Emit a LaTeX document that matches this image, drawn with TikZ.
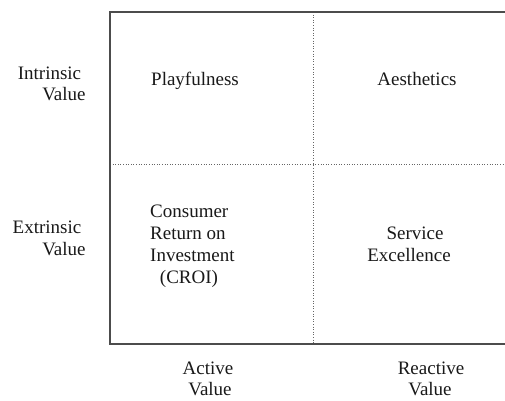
\documentclass[tikz,border=0pt]{standalone}
\usepackage{fontspec}
\setmainfont{Liberation Serif}
\begin{document}
\begin{tikzpicture}[x=1pt,y=-1pt,
  lbl/.style={anchor=base,inner sep=0pt,font=\fontsize{19}{22}\selectfont,text=black!90},
  frame/.style={draw=black!70,line width=1.2pt},
  divider/.style={draw=black!60,line width=0.6pt,dotted}]
\useasboundingbox[fill=white] (0,0) rectangle (505,400);
% frame
\coordinate (tl) at (110,12);
\coordinate (tr) at (505,12);
\coordinate (bl) at (110,344);
\coordinate (br) at (505,344);
\coordinate (vt) at (313,12);
\coordinate (vb) at (313,344);
\coordinate (hl) at (110,164);
\coordinate (hr) at (505,164);
\draw[divider] (vt) -- (vb);
\draw[divider] (hl) -- (hr);
\draw[frame] (tr) -- (tl) -- (bl) -- (br);
% row labels
\node[lbl] (intr1) at (49.5,79) {Intrinsic};
\node[lbl] (intr2) at (64,100) {Value};
\node[lbl] (extr1) at (47,233) {Extrinsic};
\node[lbl] (extr2) at (64,255) {Value};
% column labels
\node[lbl] (act1) at (208,374) {Active};
\node[lbl] (act2) at (210,395.5) {Value};
\node[lbl] (rea1) at (431,374) {Reactive};
\node[lbl] (rea2) at (430,395.5) {Value};
% quadrants
\node[lbl] (play) at (195,85) {Playfulness};
\node[lbl] (aest) at (417,85) {Aesthetics};
\node[lbl,anchor=base west] (cr1) at (150,217) {Consumer};
\node[lbl,anchor=base west] (cr2) at (150,239) {Return on};
\node[lbl,anchor=base west] (cr3) at (150,261) {Investment};
\node[lbl] (cr4) at (189,283) {(CROI)};
\node[lbl] (serv1) at (415,239) {Service};
\node[lbl] (serv2) at (409,261) {Excellence};
\end{tikzpicture}
\end{document}
